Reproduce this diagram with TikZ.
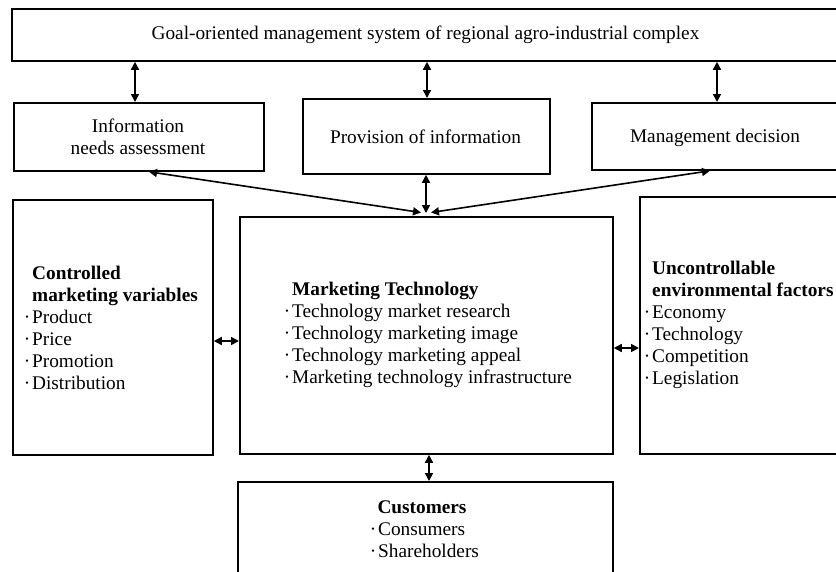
\documentclass[tikz,border=0pt]{standalone}
\usepackage{fontspec}
\setmainfont{Liberation Serif}
\usetikzlibrary{arrows.meta}
\tikzset{
  box/.style={draw, line width=1.8pt, inner sep=0pt, anchor=north west, align=center},
  arr/.style={line width=1.6pt, {Triangle[length=8pt,width=8pt]}-{Triangle[length=8pt,width=8pt]}},
  txt/.style={inner sep=0pt, anchor=base west},
  ctxt/.style={inner sep=0pt, anchor=base},
}
\newcommand{\bul}{\llap{·\hspace{2pt}}}
\begin{document}
\begin{tikzpicture}[x=1pt,y=-1pt,font=\fontsize{19.3}{22}\selectfont]
\useasboundingbox (0,0) rectangle (836,571);
\clip (0,0) rectangle (836,571);
% boxes
\node[box, minimum width=829pt, minimum height=52pt] (goal) at (11,8) {};
\node[ctxt] (goalt) at (425.5,39.5) {Goal-oriented management system of regional agro-industrial complex};
\node[box, minimum width=250pt, minimum height=68pt] (info) at (13,102) {};
\node[ctxt] (info1) at (138,132.5) {Information};
\node[ctxt] (info2) at (138,154.5) {needs assessment};
\node[box, minimum width=247pt, minimum height=75pt] (prov) at (302,98) {};
\node[ctxt] (provt) at (425.5,143) {Provision of information};
\node[box, minimum width=249pt, minimum height=67pt] (mgmt) at (591,102) {};
\node[ctxt] (mgmtt) at (715,142.5) {Management decision};
\node[box, minimum width=200pt, minimum height=255pt] (ctrl) at (12,199) {};
\node[box, minimum width=373pt, minimum height=237pt] (mt) at (239,216) {};
\node[box, minimum width=211pt, minimum height=257pt] (unc) at (639,196) {};
\node[box, minimum width=375pt, minimum height=119pt] (cust) at (237,481) {};
% left box text
\node[txt] (c1) at (32,279.5) {\textbf{Controlled}};
\node[txt] (c2) at (32,301.5) {\textbf{marketing variables}};
\node[txt] (c3) at (32,323.5) {\bul Product};
\node[txt] (c4) at (32,345.5) {\bul Price};
\node[txt] (c5) at (32,367.5) {\bul Promotion};
\node[txt] (c6) at (32,389.5) {\bul Distribution};
% centre box text
\node[txt] (m0) at (292,295) {\textbf{Marketing Technology}};
\node[txt] (mi1) at (292,317) {\bul Technology market research};
\node[txt] (mi2) at (292,339) {\bul Technology marketing image};
\node[txt] (mi3) at (292,361) {\bul Technology marketing appeal};
\node[txt] (mi4) at (292,383) {\bul Marketing technology infrastructure};
% right box text
\node[txt] (u1) at (652,274.5) {\textbf{Uncontrollable}};
\node[txt] (u2) at (652,296.5) {\textbf{environmental factors}};
\node[txt] (u3) at (652,318.5) {\bul Economy};
\node[txt] (u4) at (652,340.5) {\bul Technology};
\node[txt] (u5) at (652,362.5) {\bul Competition};
\node[txt] (u6) at (652,384.5) {\bul Legislation};
% customers text
\node[ctxt] (k0) at (422,513.5) {\textbf{Customers}};
\node[txt] (k1) at (378,535.5) {\bul Consumers};
\node[txt] (k2) at (378,557.5) {\bul Shareholders};
% helper coordinates
\coordinate (xa) at (135,0);
\coordinate (xb) at (427,0);
\coordinate (xc) at (717,0);
\coordinate (xd) at (149,0);
\coordinate (xm) at (426,0);
\coordinate (xe) at (710,0);
\coordinate (xf) at (429,0);
\coordinate (ya) at (0,341);
\coordinate (yb) at (0,348);
\coordinate (m1) at (421,212.5);
\coordinate (m2) at (426,213);
\coordinate (m3) at (431,212.5);
% connectors
\draw[arr] (goal.south -| xa) -- (info.north -| xa);
\draw[arr] (goal.south -| xb) -- (prov.north -| xb);
\draw[arr] (goal.south -| xc) -- (mgmt.north -| xc);
\draw[arr] (info.south -| xd) -- (m1);
\draw[arr] (prov.south -| xm) -- (m2);
\draw[arr] (mgmt.south -| xe) -- (m3);
\draw[arr] (ctrl.east |- ya) -- (mt.west |- ya);
\draw[arr] (mt.east |- yb) -- (unc.west |- yb);
\draw[arr] (mt.south -| xf) -- (cust.north -| xf);
\end{tikzpicture}
\end{document}
